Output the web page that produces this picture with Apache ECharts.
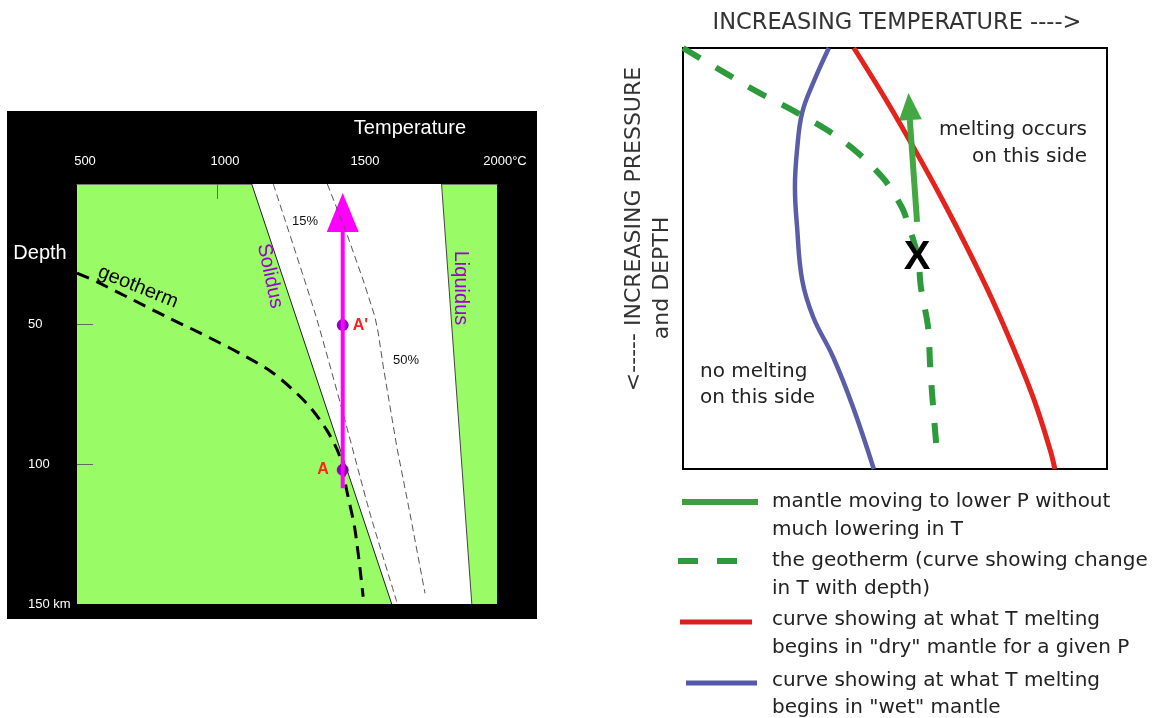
<!DOCTYPE html>
<html>
<head>
<meta charset="utf-8">
<title>Decompression melting</title>
<script src="https://cdn.jsdelivr.net/npm/echarts@6.0.0/dist/echarts.min.js"></script>
<style>
  html, body { margin: 0; padding: 0; background: #fff; }
  #chart { width: 1157px; height: 718px; }
</style>
</head>
<body>
<div id="chart"></div>
<script>
// left panel: temperature (°C) across, depth (km) down
const tempTicks = [500, 1000, 1500, 2000]
const tempMarks = [1000, 1500]
const depthTicks = [50, 100, 150]
const depthMarks = [50, 100]
const solidus = [[1124, 0], [1624, 150]]
const liquidus = [[1802, 0], [1910, 150]]
const melt15 = [[1201, 0], [1350, 46.1], [1450, 81.8], [1546, 117.5], [1642, 149.2]]
const melt50 = [[1394, 0], [1463, 17.6], [1522, 34.3], [1564, 47.4], [1576, 53.3], [1594, 65.3], [1642, 93.8], [1689, 117.6], [1743, 146.2]]
const geotherm = [[500, 31.8], [570, 34.9], [700, 41.4], [821, 47.5], [939, 53.2], [1082, 60.5], [1200, 67.5], [1320, 78.3], [1392, 87.9], [1439, 97.4], [1463, 109.3], [1493, 123.6], [1522, 147.4]]
const ascent = [[1449, 108.7], [1449, 17]]
const ascentTip = [[1449, 10.2]]
const pointA = [1449, 102.1]
const pointA2 = [1449, 50.4]

// right panel: schematic, 0-100 both ways (no scale given)
const dryMelt = [[40.3, 0], [47.9, 12.35], [54.7, 24.2], [61.2, 36.1], [67.3, 48.0], [73.0, 59.9], [78.1, 71.7], [82.8, 83.6], [86.6, 95.5], [87.7, 100]]
const wetMelt = [[34.4, 0], [30.7, 8.3], [28.1, 15.4], [26.9, 24.2], [26.4, 33.0], [26.9, 42.5], [28.1, 55.1], [30.7, 63.9], [35.4, 73.4], [40.1, 85.3], [45, 100]]
const geotherm2 = [[0, 0], [4.0, 2.4], [9.9, 5.9], [17.7, 10.5], [25.7, 14.7], [34.0, 19.5], [41.0, 24.7], [47.6, 31.4], [51.7, 38.0], [53.1, 41.8], [55.4, 49.6], [56.1, 56.8], [57.8, 66.3], [58.3, 75.8], [59.0, 85.3], [59.7, 93.8], [59.9, 96.2]]
const upwell = [[55.2, 41.3], [53.5, 17.1]]
const upwellTip = [[53.4, 13.9]]

const keyLabels = [
  ['mantle moving to lower P without', 'much lowering in T'],
  ['the geotherm (curve showing change', 'in T with depth)'],
  ['curve showing at what T melting', 'begins in "dry" mantle for a given P'],
  ['curve showing at what T melting', 'begins in "wet" mantle']
]

const SANS = '"Liberation Sans", Arial, sans-serif'
const DEJA = '"DejaVu Sans", sans-serif'

function txt (x, y, text, o) {
  o = o || {}
  const align = o.align || 'center'
  return {
    type: 'text', x: x, y: y, z: 100,
    rotation: (o.rot || 0) * Math.PI / 180,
    style: {
      text: text,
      fill: o.color || '#222',
      font: (o.weight || 'normal') + ' ' + (o.size || 20) + 'px ' + (o.family || SANS),
      align: align, textAlign: align,
      verticalAlign: 'middle', textVerticalAlign: 'middle'
    }
  }
}

function key (x1, x2, y, color, width, dash) {
  return {
    type: 'line', z: 100,
    shape: { x1: x1, y1: y, x2: x2, y2: y },
    style: { stroke: color, lineWidth: width, lineDash: dash || null }
  }
}

const graphic = [
  { type: 'rect', z: -10, shape: { x: 7, y: 111, width: 530, height: 508 }, style: { fill: '#000' } },
  txt(410, 128, 'Temperature', { color: '#fff' }),
  txt(40, 253, 'Depth', { color: '#fff' }),
  txt(305, 221, '15%', { size: 13, color: '#111' }),
  txt(406, 360, '50%', { size: 13, color: '#111' }),
  txt(270, 276, 'Solidus', { color: '#9a00d0', rot: -78 }),
  txt(461, 288, 'Liquidus', { color: '#9a00d0', rot: -90 }),
  txt(138, 287, 'geotherm', { color: '#000', rot: -22 }),

  txt(897, 23, 'INCREASING TEMPERATURE ---->', { family: DEJA, size: 22.5, color: '#333' }),
  txt(634, 229, '<----- INCREASING PRESSURE', { family: DEJA, size: 22, color: '#333', rot: 90 }),
  txt(662, 278, 'and DEPTH', { family: DEJA, size: 22, color: '#333', rot: 90 }),
  txt(1087, 130, 'melting occurs', { family: DEJA, align: 'right' }),
  txt(1087, 157, 'on this side', { family: DEJA, align: 'right' }),
  txt(700, 372, 'no melting', { family: DEJA, align: 'left' }),
  txt(700, 398, 'on this side', { family: DEJA, align: 'left' }),
  txt(917, 258, 'X', { size: 40, weight: 'bold', color: '#000' }),

  key(682, 758, 502, '#3f9f3f', 6),
  key(678, 740, 561, '#2d9a3c', 6, [20, 19]),
  key(680, 752, 622, '#d8201e', 5),
  key(686, 757, 683, '#5558a8', 5)
]
const keyRows = [[502, 530], [561, 589], [620, 648], [681, 708]]
keyLabels.forEach((lines, i) => {
  graphic.push(txt(772, keyRows[i][0], lines[0], { family: DEJA, align: 'left' }))
  graphic.push(txt(772, keyRows[i][1], lines[1], { family: DEJA, align: 'left' }))
})

const chart = echarts.init(document.getElementById('chart'))
chart.setOption({
  animation: false,
  textStyle: { fontFamily: SANS },
  grid: [
    { left: 77, top: 184, width: 420, height: 420, show: true, backgroundColor: '#99fb66', borderWidth: 0 },
    { left: 683, top: 48, width: 424, height: 421, show: true, backgroundColor: '#fff', borderColor: '#000', borderWidth: 2 }
  ],
  xAxis: [
    {
      gridIndex: 0, type: 'value', position: 'top', min: 500, max: 2000,
      splitLine: { show: false },
      axisLine: { onZero: false, lineStyle: { color: '#777', width: 1 } },
      axisTick: { inside: true, length: 15, customValues: tempMarks, lineStyle: { color: '#666' } },
      axisLabel: {
        customValues: tempTicks, color: '#fff', fontSize: 13, margin: 16, padding: [0, 0, 0, 16],
        formatter: v => Number(v) === 2000 ? '2000°C' : String(v)
      }
    },
    { gridIndex: 1, type: 'value', min: 0, max: 100, show: false }
  ],
  yAxis: [
    {
      gridIndex: 0, type: 'value', inverse: true, min: 0, max: 150,
      splitLine: { show: false },
      axisLine: { show: true, onZero: false, lineStyle: { color: 'rgba(0,0,0,0)' } },
      axisTick: { show: true, inside: true, length: 16, customValues: depthMarks, lineStyle: { color: '#666' } },
      axisLabel: {
        customValues: depthTicks, color: '#fff', fontSize: 13, align: 'left', margin: 49,
        formatter: v => Number(v) === 150 ? '150 km' : String(v)
      }
    },
    { gridIndex: 1, type: 'value', inverse: true, min: 0, max: 100, show: false }
  ],
  series: [
    {
      // partly molten band between solidus and liquidus
      type: 'custom', xAxisIndex: 0, yAxisIndex: 0, data: [0], silent: true,
      renderItem: (params, api) => ({
        type: 'polygon',
        shape: { points: solidus.concat(liquidus.slice().reverse()).map(p => api.coord(p)) },
        style: { fill: '#fff' }
      })
    },
    { type: 'line', xAxisIndex: 0, yAxisIndex: 0, data: solidus, symbol: 'none', lineStyle: { color: '#222', width: 1 } },
    { type: 'line', xAxisIndex: 0, yAxisIndex: 0, data: liquidus, symbol: 'none', lineStyle: { color: '#444', width: 1 } },
    { type: 'line', xAxisIndex: 0, yAxisIndex: 0, data: melt15, symbol: 'none', smooth: 0.2, lineStyle: { color: '#555', width: 1, type: [7, 4] } },
    { type: 'line', xAxisIndex: 0, yAxisIndex: 0, data: melt50, symbol: 'none', lineStyle: { color: '#555', width: 1, type: [7, 4] } },
    { type: 'line', xAxisIndex: 0, yAxisIndex: 0, data: geotherm, symbol: 'none', smooth: 0.3, lineStyle: { color: '#000', width: 3, type: [13, 8] } },
    { type: 'line', xAxisIndex: 0, yAxisIndex: 0, data: ascent, symbol: 'none', lineStyle: { color: '#ff00ff', width: 4 } },
    { type: 'scatter', xAxisIndex: 0, yAxisIndex: 0, data: ascentTip, symbol: 'triangle', symbolSize: [32, 39], itemStyle: { color: '#ff00ff', opacity: 1 } },
    {
      type: 'scatter', xAxisIndex: 0, yAxisIndex: 0, symbolSize: 12, itemStyle: { color: '#8c00c8', opacity: 1 },
      label: { show: true, formatter: '{b}', color: '#ff2020', fontSize: 16, fontWeight: 'bold' },
      data: [
        { name: 'A', value: pointA, label: { position: 'left', distance: 8 } },
        { name: "A'", value: pointA2, label: { position: 'right', distance: 4 } }
      ]
    },

    { type: 'line', xAxisIndex: 1, yAxisIndex: 1, data: wetMelt, symbol: 'none', smooth: 0.4, lineStyle: { color: '#5a5ea6', width: 4.5 } },
    { type: 'line', xAxisIndex: 1, yAxisIndex: 1, data: dryMelt, symbol: 'none', smooth: 0.4, lineStyle: { color: '#e3231c', width: 5 } },
    { type: 'line', xAxisIndex: 1, yAxisIndex: 1, data: geotherm2, symbol: 'none', smooth: 0.3, lineStyle: { color: '#2d9a3c', width: 6, type: [20, 18] } },
    { type: 'line', xAxisIndex: 1, yAxisIndex: 1, data: upwell, symbol: 'none', lineStyle: { color: '#43a843', width: 6 } },
    { type: 'scatter', xAxisIndex: 1, yAxisIndex: 1, data: upwellTip, symbol: 'triangle', symbolSize: [23, 27], symbolRotate: 4, itemStyle: { color: '#43a843', opacity: 1 } }
  ],
  graphic: graphic
})
</script>
</body>
</html>
